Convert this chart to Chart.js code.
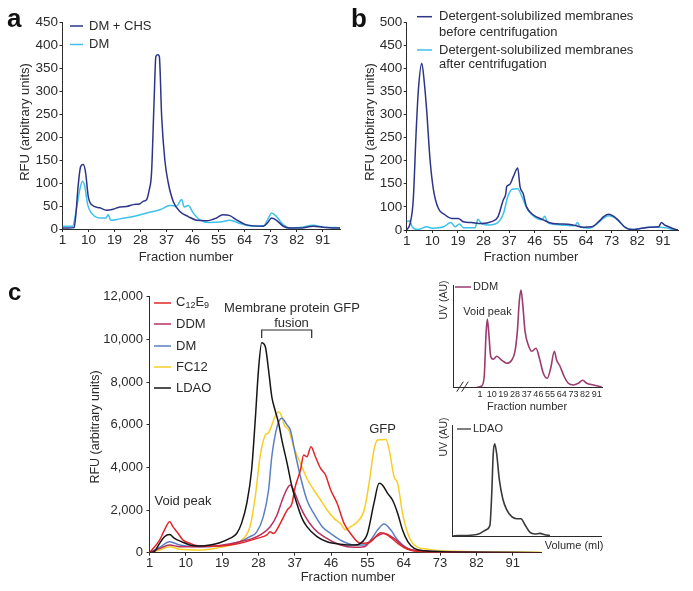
<!DOCTYPE html>
<html>
<head>
<meta charset="utf-8">
<script src="https://cdn.jsdelivr.net/npm/chart.js@4.4.1/dist/chart.umd.min.js"></script>
<style>
  body { margin: 0; background: #fff; }
  #wrap { position: relative; width: 693px; height: 591px; }
  #wrap canvas { position: absolute; left: 0; top: 0; }
</style>
</head>
<body>
<div id="wrap">
  <canvas id="chartA" width="693" height="591"></canvas>
  <canvas id="chartB" width="693" height="591"></canvas>
  <canvas id="chartC" width="693" height="591"></canvas>
  <canvas id="insetDdm" width="693" height="591"></canvas>
  <canvas id="insetLdao" width="693" height="591"></canvas>
</div>
<script>
// ---- panel a: DM + CHS vs DM ----
const fracTicks = [1, 10, 19, 28, 37, 46, 55, 64, 73, 82, 91];
const yTicksA = [0, 50, 100, 150, 200, 250, 300, 350, 400, 450];

const fracA_chs = [1, 3, 5, 5.6, 6.4, 7.3, 8.2, 9, 9.9, 11, 13.9, 16.2, 18.5, 20.8, 23.2, 25.5, 27.8, 28.9, 30.1, 31, 31.8, 32.7, 33.3, 34, 34.5, 35.3, 36.4, 37.6, 39.3, 41.6, 44.5, 47.4, 50.8, 54.3, 56.4, 58.9, 61.2, 64.7, 70.5, 72, 73.3, 75, 77.4, 79.7, 83, 87.8, 91.2, 95.8, 97];
const rfuA_chs = [2, 2, 3, 30, 93, 136, 140, 122, 71, 53, 46, 41, 43, 48, 49, 53, 55, 60, 64, 85, 122, 281, 375, 379, 375, 245, 150, 100, 60, 38, 27, 19, 18, 24, 31, 29, 20, 9, 6, 14, 24, 19, 6, 2, 2, 6, 4, 2, 2];
const fracA_dm = [1, 4.5, 5.6, 7, 7.9, 8.7, 9.7, 11, 13.9, 16, 16.8, 17.7, 20.8, 25.5, 30.1, 34.7, 38.2, 40.5, 42.2, 43.1, 44.5, 46.2, 48.5, 52, 55.5, 58.9, 62.4, 67, 70.5, 72.5, 73.3, 75, 77.4, 79.7, 83, 87.8, 91.2, 95.8, 97];
const rfuA_dm = [6, 6, 35, 86, 104, 93, 53, 35, 24, 24, 31, 19, 22, 27, 35, 42, 51, 50, 64, 48, 51, 35, 20, 14, 15, 19, 12, 6, 7, 27, 35, 27, 9, 2, 3, 8, 4, 3, 2];

// ---- panel b: before / after centrifugation (the axis skips the 50 label) ----
const yTicksB = [50, 100, 150, 200, 250, 300, 350, 400, 450, 500];
const yLabelsB = ['0', '100', '150', '200', '250', '300', '350', '400', '450', '500'];

const fracB_before = [1, 2.2, 3.3, 4.3, 5.1, 6.3, 7.2, 8, 9.2, 10.4, 12.1, 14.4, 16.8, 19.1, 20.9, 23.8, 27.3, 30.8, 33.1, 34.9, 35.8, 36.1, 37.1, 38.5, 40, 40.8, 41.9, 43.1, 45.4, 48.9, 52.4, 55.9, 59.4, 63, 66, 68.4, 70.2, 72, 73.6, 75.2, 77.5, 80, 83, 86.5, 89.5, 90.5, 91.5, 93, 95.5, 96.3];
const rfuB_before = [50, 64, 115, 260, 353, 411, 368, 310, 202, 137, 97, 83, 75, 75, 68, 66, 64, 68, 79, 115, 128, 144, 148, 166, 184, 144, 129, 100, 83, 72, 64, 63, 61, 56, 57, 68, 79, 84, 80, 72, 57, 51, 53, 56, 57, 66, 61, 57, 51, 50];
const fracB_after = [1, 2, 3, 5, 8, 10, 14, 16.5, 18, 19.5, 21, 25, 26, 27.5, 30, 33, 35, 36.5, 38, 40, 41.5, 43, 45, 48.5, 49.5, 50.5, 55, 60, 61, 62, 65, 68, 70, 72, 74, 76, 78, 81, 86, 90, 92, 95.5, 96.3];
const rfuB_after = [68, 70, 56, 51, 57, 54, 57, 66, 57, 63, 55, 55, 73, 63, 61, 66, 86, 122, 138, 139, 122, 100, 83, 72, 80, 66, 61, 59, 66, 57, 54, 64, 75, 81, 77, 66, 54, 51, 56, 56, 55, 50, 50];

// ---- panel c: detergent screen ----
const yTicksC = [0, 2000, 4000, 6000, 8000, 10000, 12000];

const fracC_ldao = [1, 2.2, 3.5, 4.7, 6, 7.2, 8.9, 11, 13.5, 16, 18.4, 20.9, 22.6, 23.8, 25.1, 26.3, 27.2, 28, 28.8, 29.7, 30.5, 31.3, 32.1, 33, 33.8, 35.1, 36.3, 37.5, 38.8, 40, 42.5, 45, 48.3, 51.7, 53.3, 55, 56.6, 57.9, 58.7, 60, 61.2, 62.5, 63.7, 65, 66.6, 69.1, 73.3, 80, 98];
const rfuC_ldao = [0, 50, 440, 750, 850, 670, 520, 360, 310, 360, 470, 670, 900, 1375, 2310, 3875, 6220, 8560, 9840, 9650, 8560, 7310, 6690, 6060, 5280, 4190, 3090, 2310, 1610, 1220, 750, 515, 400, 360, 440, 900, 2310, 3250, 3170, 2780, 2470, 1840, 1060, 515, 200, 90, 50, 20, 0];
const fracC_fc12 = [1, 3.5, 6, 8.5, 13.5, 18.4, 21.8, 24.3, 25.9, 27.2, 28.4, 29.7, 30.5, 31.3, 32.1, 33, 33.8, 34.4, 35.5, 36.7, 38.4, 40, 41.7, 43.4, 45, 46.7, 48.3, 49.6, 50.8, 52.5, 54.2, 55.4, 56.6, 57.5, 59.6, 60.4, 61.6, 62.5, 63.7, 65, 66.6, 69.9, 73.3, 81.6, 98];
const rfuC_fc12 = [0, 125, 280, 160, 125, 250, 400, 670, 1220, 2625, 4500, 5515, 5625, 5980, 6375, 6610, 6375, 5980, 5750, 4970, 4190, 3480, 2940, 2470, 2000, 1610, 1375, 1060, 1220, 1450, 2000, 3250, 4810, 5280, 5310, 4810, 3560, 3250, 1840, 900, 360, 160, 90, 50, 20];
const fracC_dm = [1, 3.5, 6, 8.5, 13.5, 18.4, 23.4, 25.9, 27.6, 29.2, 30.5, 31.3, 32.6, 33.8, 35.1, 35.9, 37.1, 38.4, 40, 41.7, 43.8, 45.9, 48.3, 51.7, 54.2, 55.8, 57.5, 59.1, 60.8, 62.5, 65, 69.1, 98];
const rfuC_dm = [0, 250, 515, 360, 280, 310, 515, 750, 980, 1690, 2940, 4500, 5900, 6300, 5980, 5750, 4660, 3560, 2470, 1840, 1220, 900, 590, 360, 360, 590, 1060, 1340, 1060, 590, 200, 80, 0];
const fracC_ddm = [1, 3.5, 6, 8.5, 13.5, 18.4, 23.4, 27.6, 30.9, 32.6, 34.2, 35.9, 36.7, 38, 39.6, 41.7, 44.2, 48.3, 51.7, 54.2, 56.2, 59.1, 61.6, 64.1, 67.4, 98];
const rfuC_ddm = [0, 200, 360, 280, 280, 340, 515, 750, 1220, 1770, 2625, 3170, 2940, 2310, 1690, 1140, 750, 360, 250, 280, 625, 900, 670, 280, 80, 0];
const fracC_c12 = [1, 3.5, 4.7, 6, 6.8, 8.1, 9.3, 11, 13.5, 18.4, 23.4, 27.6, 30.1, 30.9, 31.7, 33.4, 35.1, 36.3, 37.1, 38.4, 39.2, 40, 41, 42.1, 43.4, 44.6, 45.9, 47.5, 49.2, 50.8, 53.3, 55.8, 58.3, 60, 62.5, 65, 69.1, 98];
const rfuC_c12 = [0, 590, 1060, 1450, 1220, 900, 590, 440, 310, 310, 440, 670, 830, 985, 900, 1375, 2000, 2310, 3090, 3875, 4580, 4500, 4970, 4500, 3950, 3640, 2940, 2310, 1375, 900, 440, 515, 940, 830, 440, 160, 50, 0];

// ---- insets (arbitrary UV units) ----
const fracInsetDdm = [-1.5, 2.3, 4.3, 5.6, 6.6, 7.9, 9.2, 11.3, 13.9, 17.7, 21.6, 25.4, 28, 29.8, 31.3, 32.6, 34, 35.7, 38.3, 40.9, 44.2, 46.8, 49.8, 52.9, 55.5, 58.3, 60.1, 62.7, 65.8, 69.1, 73, 76.8, 80.2, 83.3, 88.4, 94.8];
const uvInsetDdm = [0, 1.3, 12, 52, 68, 52, 31, 28, 31, 27, 24, 27, 36, 56, 86, 97, 82, 56, 42, 36, 39, 29, 14, 9, 19, 36, 27, 21, 11, 4, 2.3, 4, 7, 4, 2.3, 0.3];
const volInsetLdao = [0.4, 13.8, 18.3, 22.8, 25, 26.2, 27.2, 28.2, 29.5, 31.3, 33.6, 36.2, 39.6, 43, 45.8, 48.5, 51.9, 55.2, 58.6, 61.9, 65.3];
const uvInsetLdao = [1, 1.7, 3.3, 7.3, 11.7, 43, 83, 93, 83, 57, 38, 27, 20, 18, 18, 12, 4.3, 2.7, 3.3, 2, 1];

const FONT = "'Liberation Sans', Arial, Helvetica, sans-serif";
const INK = '#2b2b2b';
const W = 693, H = 591;
const Y_BOX = 60, X_BOX = 24; // room kept for tick labels

function pts(xs, ys) {
  return xs.map((x, i) => ({ x, y: ys[i] }));
}

function series(label, xs, ys, color, width) {
  return {
    label,
    data: pts(xs, ys),
    borderColor: color,
    borderWidth: width || 1.5,
    pointRadius: 0,
    fill: false,
    cubicInterpolationMode: 'monotone',
  };
}

// free text, legend keys and brackets, in page pixels
function notesPlugin(cfg) {
  return {
    id: 'notes',
    afterDraw(chart) {
      const ctx = chart.ctx;
      ctx.save();
      (cfg.strokes || []).forEach((s) => {
        ctx.beginPath();
        ctx.strokeStyle = s.color || INK;
        ctx.lineWidth = s.w || 1;
        s.pts.forEach(([x, y], i) => (i ? ctx.lineTo(x, y) : ctx.moveTo(x, y)));
        ctx.stroke();
      });
      (cfg.texts || []).forEach((t) => {
        ctx.save();
        ctx.fillStyle = t.color || INK;
        ctx.textAlign = t.align || 'left';
        ctx.textBaseline = t.base || 'middle';
        ctx.translate(t.x, t.y);
        if (t.rot) ctx.rotate((t.rot * Math.PI) / 180);
        if (t.parts) {
          let x = 0;
          t.parts.forEach(([s, sub]) => {
            ctx.font = (sub ? 9 : t.size || 13) + 'px ' + FONT;
            ctx.fillText(s, x, sub ? 4 : 0);
            x += ctx.measureText(s).width;
          });
        } else {
          ctx.font = (t.bold ? 'bold ' : '') + (t.size || 13) + 'px ' + FONT;
          ctx.fillText(t.t, 0, 0);
        }
        ctx.restore();
      });
      ctx.restore();
    },
  };
}

function axis(c, dir) {
  const a = {
    type: 'linear',
    bounds: 'data',
    min: c.min,
    max: c.max,
    afterFit: (s) => {
      if (dir === 'x') s.height = X_BOX;
      else s.width = Y_BOX;
    },
    border: { display: true, color: INK, width: 1 },
    grid: { display: !!c.tickLen, drawOnChartArea: false, tickLength: c.tickLen || 0, color: INK },
    ticks: {
      display: !!c.ticks,
      autoSkip: false,
      maxRotation: 0,
      padding: c.pad || 0,
      color: INK,
      font: { family: FONT, size: c.size || 13 },
      callback: c.fmt || ((v) => v),
    },
  };
  if (c.ticks) a.afterBuildTicks = (s) => { s.ticks = c.ticks.map((v) => ({ value: v })); };
  return a;
}

function panel(id, area, xCfg, yCfg, datasets, notes) {
  return new Chart(document.getElementById(id), {
    type: 'line',
    data: { datasets },
    options: {
      responsive: false,
      animation: false,
      devicePixelRatio: 1,
      layout: { padding: { left: area.l - Y_BOX, top: area.t, right: W - area.r, bottom: H - area.b - X_BOX } },
      plugins: { legend: { display: false }, tooltip: { enabled: false } },
      scales: { x: axis(xCfg, 'x'), y: axis(yCfg, 'y') },
    },
    plugins: [notesPlugin(notes)],
  });
}

const NAVY = '#2e3488', CYAN = '#3ec1ea';
const RED = '#e2262b', DDM = '#b8305e', BLUE = '#5b7fc3', YELLOW = '#f6cf26', BLACK = '#151515';
const PLUM = '#9b3b6e';

// panel a
panel('chartA', { l: 62.5, t: 22, r: 340, b: 229 },
  { min: 1, max: 97, ticks: fracTicks, tickLen: 3, pad: 0, size: 13.5 },
  { min: 0, max: 450, ticks: yTicksA, tickLen: 3, pad: 1.5, size: 13.5 },
  [series('DM + CHS', fracA_chs, rfuA_chs, NAVY), series('DM', fracA_dm, rfuA_dm, CYAN)],
  {
    strokes: [
      { pts: [[70, 26], [83, 26]], color: NAVY, w: 1.5 },
      { pts: [[70, 44.5], [83, 44.5]], color: CYAN, w: 1.5 },
    ],
    texts: [
      { t: 'a', x: 7, y: 27, size: 26, bold: true, base: 'alphabetic', color: '#111' },
      { t: 'DM + CHS', x: 89, y: 26 },
      { t: 'DM', x: 89, y: 44.5 },
      { t: 'RFU (arbitrary units)', x: 25, y: 122, rot: -90, align: 'center' },
      { t: 'Fraction number', x: 186, y: 257, align: 'center' },
    ],
  });

// panel b
panel('chartB', { l: 406.7, t: 22, r: 678, b: 230 },
  { min: 1, max: 96.3, ticks: fracTicks, tickLen: 3, pad: 0, size: 13.5 },
  { min: 50, max: 500, ticks: yTicksB, tickLen: 3, pad: 1.5, size: 13.5, fmt: (v, i) => yLabelsB[i] },
  [series('Detergent-solubilized membranes before centrifugation', fracB_before, rfuB_before, NAVY),
   series('Detergent-solubilized membranes after centrifugation', fracB_after, rfuB_after, CYAN)],
  {
    strokes: [
      { pts: [[417, 16.7], [432, 16.7]], color: NAVY, w: 1.5 },
      { pts: [[417, 50], [432, 50]], color: CYAN, w: 1.5 },
    ],
    texts: [
      { t: 'b', x: 351, y: 27, size: 26, bold: true, base: 'alphabetic', color: '#111' },
      { t: 'Detergent-solubilized membranes', x: 439, y: 16.7 },
      { t: 'before centrifugation', x: 439, y: 32.3 },
      { t: 'Detergent-solubilized membranes', x: 439, y: 50 },
      { t: 'after centrifugation', x: 439, y: 64.3 },
      { t: 'RFU (arbitrary units)', x: 370, y: 122, rot: -90, align: 'center' },
      { t: 'Fraction number', x: 531, y: 257, align: 'center' },
    ],
  });

// panel c
panel('chartC', { l: 149.5, t: 296.7, r: 541, b: 552.7 },
  { min: 1, max: 98, ticks: fracTicks, tickLen: 3, pad: 0, size: 13 },
  { min: 0, max: 12000, ticks: yTicksC, tickLen: 3, pad: 3.5, size: 13, fmt: (v) => v.toLocaleString('en-US') },
  [series('LDAO', fracC_ldao, rfuC_ldao, BLACK),
   series('C12E9', fracC_c12, rfuC_c12, RED),
   series('DDM', fracC_ddm, rfuC_ddm, DDM),
   series('DM', fracC_dm, rfuC_dm, BLUE),
   series('FC12', fracC_fc12, rfuC_fc12, YELLOW)],
  {
    strokes: [
      { pts: [[154, 303], [171, 303]], color: RED, w: 1.5 },
      { pts: [[154, 324], [171, 324]], color: DDM, w: 1.5 },
      { pts: [[154, 346], [171, 346]], color: BLUE, w: 1.5 },
      { pts: [[154, 367], [171, 367]], color: YELLOW, w: 1.5 },
      { pts: [[154, 388], [171, 388]], color: BLACK, w: 1.5 },
      { pts: [[261.7, 338], [261.7, 330], [311.7, 330], [311.7, 338]], color: INK, w: 1.2 },
    ],
    texts: [
      { t: 'c', x: 8, y: 300, size: 24, bold: true, base: 'alphabetic', color: '#111' },
      { parts: [['C'], ['12', true], ['E'], ['9', true]], x: 176, y: 302 },
      { t: 'DDM', x: 176, y: 324 },
      { t: 'DM', x: 176, y: 346 },
      { t: 'FC12', x: 176, y: 367 },
      { t: 'LDAO', x: 176, y: 388 },
      { t: 'Membrane protein GFP', x: 292, y: 308, align: 'center' },
      { t: 'fusion', x: 291.5, y: 323, align: 'center' },
      { t: 'GFP', x: 382.5, y: 429, align: 'center' },
      { t: 'Void peak', x: 183, y: 501, align: 'center' },
      { t: 'RFU (arbitrary units)', x: 96, y: 427, rot: -90, align: 'center', size: 12.5 },
      { t: 'Fraction number', x: 348, y: 577, align: 'center' },
    ],
  });

// inset: DDM UV trace
panel('insetDdm', { l: 453.3, t: 285, r: 602.7, b: 387.3 },
  { min: -19.6, max: 95.6, ticks: fracTicks, tickLen: 0, pad: 1.5, size: 9 },
  { min: 0, max: 102 },
  [series('DDM', fracInsetDdm, uvInsetDdm, PLUM, 1.6)],
  {
    strokes: [
      { pts: [[455, 287], [471, 287]], color: PLUM, w: 1.5 },
      { pts: [[456.7, 391.7], [463.3, 381.7]], color: INK, w: 1 },
      { pts: [[461.7, 391.7], [468.3, 381.7]], color: INK, w: 1 },
    ],
    texts: [
      { t: 'DDM', x: 473, y: 287, size: 11 },
      { t: 'Void peak', x: 487.5, y: 311.7, size: 11, align: 'center' },
      { t: 'UV (AU)', x: 444, y: 300, size: 10.5, rot: -90, align: 'center' },
      { t: 'Fraction number', x: 527, y: 407, size: 11, align: 'center' },
    ],
  });

// inset: LDAO UV trace
panel('insetLdao', { l: 452.7, t: 425, r: 601.7, b: 536.7 },
  { min: 0, max: 100 },
  { min: 0, max: 111.7 },
  [series('LDAO', volInsetLdao, uvInsetLdao, '#3a3a3a', 1.6)],
  {
    strokes: [{ pts: [[457, 429], [471, 429]], color: '#555', w: 1.5 }],
    texts: [
      { t: 'LDAO', x: 473, y: 429, size: 11 },
      { t: 'UV (AU)', x: 444, y: 437, size: 10.5, rot: -90, align: 'center' },
      { t: 'Volume (ml)', x: 574, y: 546, size: 11, align: 'center' },
    ],
  });
</script>
</body>
</html>
